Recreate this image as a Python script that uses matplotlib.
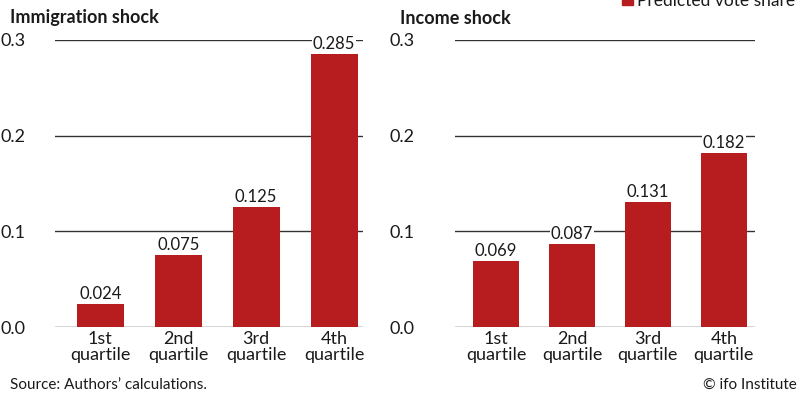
import matplotlib.pyplot as plt

plt.rcParams['font.family'] = ['Lato', 'DejaVu Sans']

categories = ["1st\nquartile", "2nd\nquartile", "3rd\nquartile", "4th\nquartile"]
immigration = [0.024, 0.075, 0.125, 0.285]
income = [0.069, 0.087, 0.131, 0.182]
value_labels_imm = ["0.024", "0.075", "0.125", "0.285"]
value_labels_inc = ["0.069", "0.087", "0.131", "0.182"]
yticks = [0.0, 0.1, 0.2, 0.3]

bar_color = "#b71c1f"
grid_color = "#333333"

W, H = 810, 396
fig = plt.figure(figsize=(8.1, 3.96), dpi=100)


def panel(x0, x1, values, labels, title, title_x, xlim, pad):
    ax = fig.add_axes([x0 / W, (H - 327) / H, (x1 - x0) / W, (327 - 40) / H])
    x = range(len(values))
    ax.bar(x, values, width=0.6, color=bar_color, zorder=3)
    for xi, v, lab in zip(x, values, labels):
        ax.annotate(lab, (xi, v), xytext=(0, 1.5), textcoords="offset points",
                    ha="center", va="bottom", fontsize=12, color="#1a1a1a",
                    zorder=4,
                    bbox=dict(facecolor="white", edgecolor="none", pad=0.5))
    for t in yticks:
        ax.axhline(t, color=grid_color, lw=1.0, zorder=1)
    ax.set_ylim(0, 0.3)
    ax.set_xlim(*xlim)
    ax.set_yticks(yticks)
    ax.set_yticklabels(["%.1f" % t for t in yticks], fontsize=13, color="#1a1a1a")
    ax.set_xticks(list(x))
    ax.set_xticklabels(categories, fontsize=13, color="#1a1a1a", linespacing=1.0)
    ax.tick_params(axis="y", length=0, pad=pad)
    ax.tick_params(axis="x", length=0, pad=3)
    for s in ax.spines.values():
        s.set_visible(False)
    fig.text(title_x / W, (H - 18) / H, title, fontsize=13, fontweight="bold",
             va="center", ha="left", color="#1a1a1a")
    return ax


panel(55, 363, immigration, value_labels_imm, "Immigration shock", 10,
      (-0.58, 3.37), 21)
panel(455, 755, income, value_labels_inc, "Income shock", 400,
      (-0.54, 3.41), 29)

# legend, partly cut off at the top edge
fig.patches.append(plt.Rectangle((622 / W, (H - 5) / H), 11 / W, 11 / H,
                                 transform=fig.transFigure, color=bar_color,
                                 figure=fig))
fig.text(637 / W, (H - 1) / H, "Predicted vote share", fontsize=12.5,
         va="center", ha="left", color="#1a1a1a")

fig.text(10 / W, (H - 385) / H, "Source: Authors\u2019 calculations.", fontsize=11,
         va="center", ha="left", color="#1a1a1a")
fig.text(797 / W, (H - 385) / H, "\u00a9 ifo Institute", fontsize=11,
         va="center", ha="right", color="#1a1a1a")

fig.savefig("out.png", dpi=100)
